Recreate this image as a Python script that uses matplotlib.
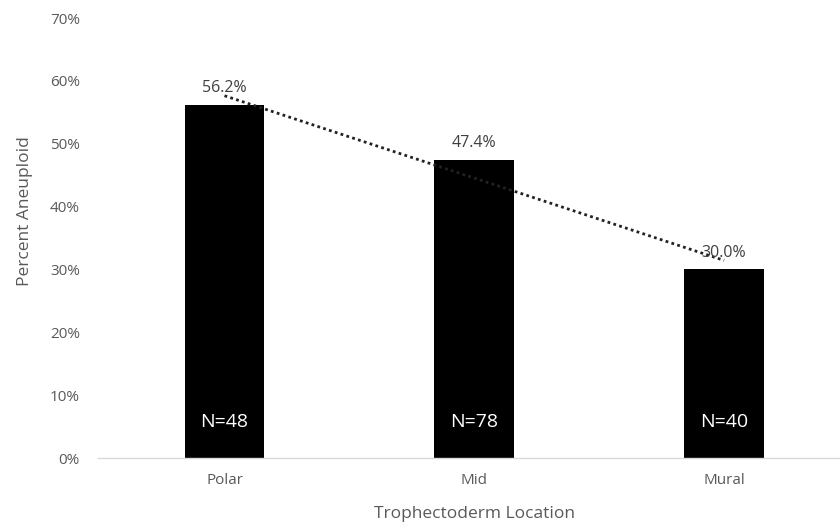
import numpy as np
import matplotlib
matplotlib.use("Agg")
import matplotlib.pyplot as plt

plt.rcParams['font.family'] = ['Open Sans', 'DejaVu Sans']

categories = ['Polar', 'Mid', 'Mural']
aneuploid_pct = [56.2, 47.4, 30.0]
n_labels = ['N=48', 'N=78', 'N=40']
y_ticks = [0, 10, 20, 30, 40, 50, 60, 70]

fig = plt.figure(figsize=(8.4, 5.29), dpi=100)
ax = fig.add_axes([98 / 840, 71 / 529, 742 / 840, 440 / 529])

x = np.arange(len(categories))
ax.bar(x, aneuploid_pct, width=0.32, color='black', zorder=2)

# linear trendline like excel
slope, icpt = np.polyfit(x + 1, aneuploid_pct, 1)
ax.plot(x, slope * (x + 1) + icpt, linestyle=(0, (1, 1.2)), color='#222222',
        linewidth=2, zorder=3)

for xi, v, n in zip(x, aneuploid_pct, n_labels):
    ax.text(xi, v + 1.4, f'{v:.1f}%', ha='center', va='bottom',
            fontsize=11.5, color='#404040', zorder=4)
    ax.text(xi, 5.7, n, ha='center', va='center', fontsize=14,
            color='white', zorder=4)

ax.set_xlim(-0.5065, 2.464)
ax.set_ylim(0, 70)
ax.set_yticks(y_ticks)
ax.set_yticklabels([f'{t}%' for t in y_ticks])
ax.set_xticks(x)
ax.set_xticklabels(categories)
ax.tick_params(axis='both', length=0, labelsize=11, labelcolor='#595959')
ax.tick_params(axis='x', pad=11)
ax.tick_params(axis='y', pad=13)

for s in ['top', 'right', 'left']:
    ax.spines[s].set_visible(False)
ax.spines['bottom'].set_color('#d9d9d9')
ax.spines['bottom'].set_linewidth(1)

ax.set_ylabel('Percent Aneuploid', fontsize=12.5, color='#595959')
ax.yaxis.set_label_coords(-0.087, 0.561)
ax.set_xlabel('Trophectoderm Location', fontsize=12.5, color='#595959')
ax.xaxis.set_label_coords(0.507, -0.108)

fig.savefig('out.png', dpi=100)
